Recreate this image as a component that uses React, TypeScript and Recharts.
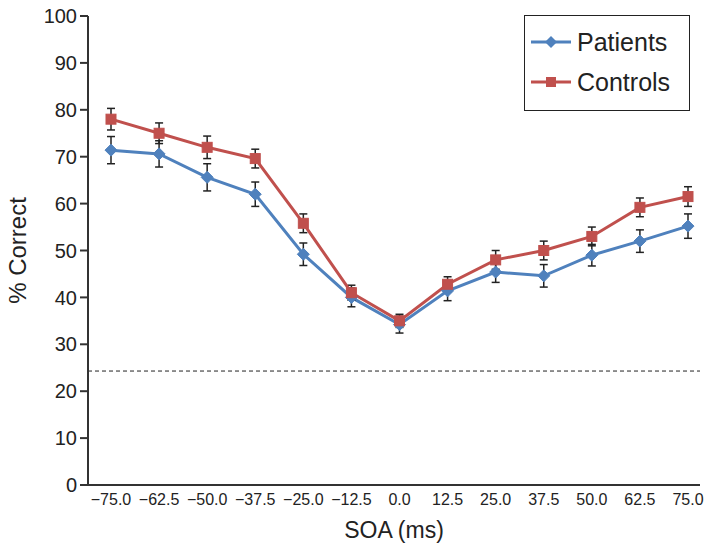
import React from "react";
import {
  LineChart,
  Line,
  XAxis,
  YAxis,
  ReferenceLine,
  ErrorBar,
} from "recharts";

const soa = ["−75.0", "−62.5", "−50.0", "−37.5", "−25.0", "−12.5", "0.0", "12.5", "25.0", "37.5", "50.0", "62.5", "75.0"];
const patients = [71.4, 70.6, 65.6, 62.0, 49.2, 40.0, 34.2, 41.4, 45.4, 44.6, 49.0, 52.0, 55.2];
const patientsErr = [2.9, 2.8, 2.9, 2.6, 2.4, 2.0, 1.8, 2.1, 2.2, 2.4, 2.3, 2.4, 2.6];
const controls = [78.0, 75.0, 72.0, 69.6, 55.8, 41.0, 35.0, 42.8, 48.0, 50.0, 53.0, 59.2, 61.5];
const controlsErr = [2.3, 2.2, 2.4, 2.0, 2.0, 1.6, 1.4, 1.6, 2.0, 2.0, 2.0, 2.0, 2.1];
const yTicks = [0, 10, 20, 30, 40, 50, 60, 70, 80, 90, 100];
const chanceLevel = 24.3;

const BLUE = "#4F81BD";
const RED = "#C0504D";
const FONT = "'Liberation Sans', Arial, sans-serif";

const data = soa.map((s, i) => ({
  soa: s,
  patients: patients[i],
  patientsErr: patientsErr[i],
  controls: controls[i],
  controlsErr: controlsErr[i],
}));

// diamond marker for patients
const Diamond = (props: any) => {
  const { cx, cy } = props;
  if (cx == null || cy == null) return null;
  const r = 6;
  return (
    <path
      d={`M${cx},${cy - r} L${cx + r},${cy} L${cx},${cy + r} L${cx - r},${cy} Z`}
      fill={BLUE}
      stroke={BLUE}
    />
  );
};

// square marker for controls
const Square = (props: any) => {
  const { cx, cy } = props;
  if (cx == null || cy == null) return null;
  const r = 5;
  return <rect x={cx - r} y={cy - r} width={r * 2} height={r * 2} fill={RED} stroke={RED} />;
};

const LegendBox = () => {
  const items = [
    { name: "Patients", color: BLUE, shape: "diamond" },
    { name: "Controls", color: RED, shape: "square" },
  ];
  return (
    <div
      style={{
        position: "absolute",
        left: 524,
        top: 15,
        width: 166,
        boxSizing: "border-box",
        border: "1.5px solid #222",
        background: "#fff",
        padding: "6px 8px 8px 6px",
        fontFamily: FONT,
        fontSize: 25,
        color: "#222",
      }}
    >
      {items.map((it) => (
        <div key={it.name} style={{ display: "flex", alignItems: "center", height: 40 }}>
          <svg width={40} height={14} style={{ marginRight: 6 }}>
            <line x1={0} y1={7} x2={40} y2={7} stroke={it.color} strokeWidth={3} />
            {it.shape === "diamond" ? (
              <path d="M20,1 L26,7 L20,13 L14,7 Z" fill={it.color} />
            ) : (
              <rect x={15} y={2} width={10} height={10} fill={it.color} />
            )}
          </svg>
          <span>{it.name}</span>
        </div>
      ))}
    </div>
  );
};

export default function App() {
  return (
    <div style={{ position: "absolute", left: 0, top: 0, width: 704, height: 555, background: "#fff" }}>
      <LineChart
        width={704}
        height={555}
        data={data}
        margin={{ top: 16, right: 4, bottom: 0, left: 0 }}
      >
        <XAxis
          dataKey="soa"
          tickLine={false}
          tickMargin={3}
          padding={{ left: 23, right: 12 }}
          axisLine={{ stroke: "#333", strokeWidth: 2 }}
          tick={{ fill: "#222", fontSize: 16, fontFamily: FONT }}
          height={70}
          interval={0}
          label={{
            value: "SOA (ms)",
            position: "insideBottom",
            offset: 17,
            fill: "#222",
            fontSize: 23,
            fontFamily: FONT,
          }}
        />
        <YAxis
          domain={[0, 100]}
          ticks={yTicks}
          width={88}
          tickSize={8}
          tickMargin={3}
          axisLine={{ stroke: "#333", strokeWidth: 2 }}
          tickLine={{ stroke: "#333", strokeWidth: 2 }}
          tick={{ fill: "#222", fontSize: 20, fontFamily: FONT }}
          label={{
            value: "% Correct",
            angle: -90,
            position: "insideLeft",
            offset: 17,
            style: { textAnchor: "middle" },
            fill: "#222",
            fontSize: 24,
            fontFamily: FONT,
          }}
        />
        <ReferenceLine y={chanceLevel} stroke="#222" strokeWidth={1} strokeDasharray="4 3" />
        <Line
          type="linear"
          dataKey="patients"
          name="Patients"
          stroke={BLUE}
          strokeWidth={3}
          dot={<Diamond />}
          activeDot={false}
          isAnimationActive={false}
        >
          <ErrorBar dataKey="patientsErr" width={4} stroke="#222" strokeWidth={1.5} direction="y" />
        </Line>
        <Line
          type="linear"
          dataKey="controls"
          name="Controls"
          stroke={RED}
          strokeWidth={3}
          dot={<Square />}
          activeDot={false}
          isAnimationActive={false}
        >
          <ErrorBar dataKey="controlsErr" width={4} stroke="#222" strokeWidth={1.5} direction="y" />
        </Line>
      </LineChart>
      <LegendBox />
    </div>
  );
}
